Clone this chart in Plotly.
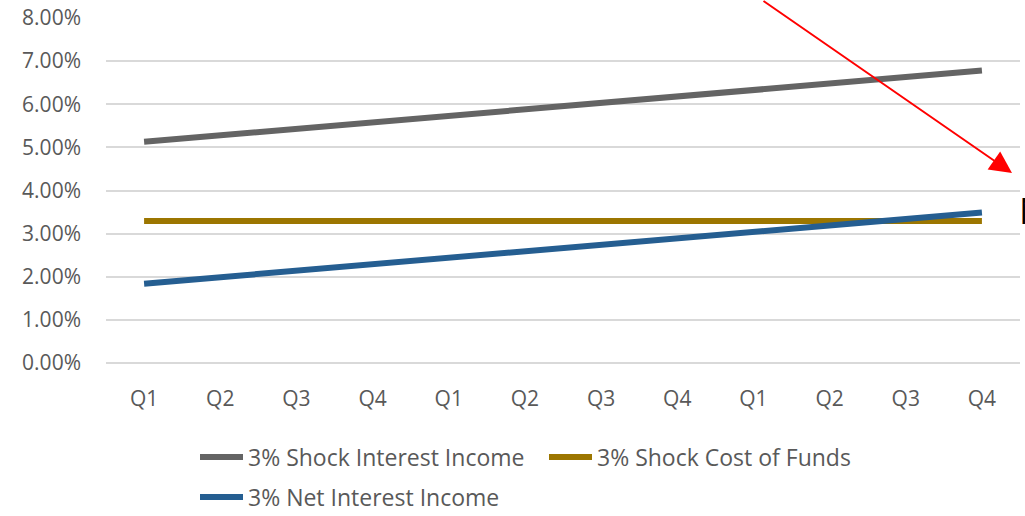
import plotly.graph_objects as go

quarters = ["Q1", "Q2", "Q3", "Q4", "Q1", "Q2", "Q3", "Q4", "Q1", "Q2", "Q3", "Q4"]
shock_interest_income = [5.13, 5.28, 5.43, 5.58, 5.73, 5.88, 6.03, 6.18, 6.33, 6.48, 6.63, 6.78]
shock_cost_of_funds = [3.29, 3.29, 3.29, 3.29, 3.29, 3.29, 3.29, 3.29, 3.29, 3.29, 3.29, 3.29]
net_interest_income = [1.84, 1.99, 2.14, 2.29, 2.44, 2.59, 2.74, 2.89, 3.04, 3.19, 3.34, 3.49]
y_ticks = [0, 1, 2, 3, 4, 5, 6, 7, 8]

FONT = "Open Sans"
TXT = "#595959"
xs = list(range(len(quarters)))

fig = go.Figure()
fig.add_trace(go.Scatter(x=xs, y=shock_interest_income, mode="lines",
                         name="3% Shock Interest Income",
                         line=dict(color="#646464", width=6), legend="legend"))
fig.add_trace(go.Scatter(x=xs, y=shock_cost_of_funds, mode="lines",
                         name="3% Shock Cost of Funds",
                         line=dict(color="#9C7600", width=6), legend="legend2"))
fig.add_trace(go.Scatter(x=xs, y=net_interest_income, mode="lines",
                         name="3% Net Interest Income",
                         line=dict(color="#255E91", width=6), legend="legend3"))

W, H = 1025, 516
ml, mr, mt, mb = 106, 5, 18, 153
pw = W - ml - mr
ph = H - mt - mb

def px_x(p):
    return (p - ml) / pw

def px_y(p):
    return (H - mb - p) / ph

def cy(p):
    return 1 - p / H

def cx(p):
    return p / W

def legend_at(text_x_px, y_px):
    # legend text begins ~53 px to the right of the legend's left edge
    return dict(orientation="h", xref="container", yref="container",
                x=cx(text_x_px - 53), xanchor="left", y=cy(y_px), yanchor="middle",
                itemwidth=43, font=dict(size=23, color=TXT),
                bgcolor="rgba(0,0,0,0)", borderwidth=0)

fig.update_layout(
    width=W, height=H,
    margin=dict(l=ml, r=mr, t=mt, b=mb, autoexpand=False),
    paper_bgcolor="white", plot_bgcolor="white",
    font=dict(family=FONT, size=21, color=TXT),
    xaxis=dict(range=[-0.5, len(quarters) - 0.5], tickmode="array", tickvals=xs,
               ticktext=quarters, showgrid=False, zeroline=False, showline=False,
               ticks="", ticklabelstandoff=21, tickfont=dict(size=21, color=TXT)),
    yaxis=dict(range=[0, 8.0], tickmode="array", tickvals=y_ticks,
               ticktext=[f"{v:.2f}%" for v in y_ticks], showgrid=True,
               gridcolor="#D9D9D9", gridwidth=2, zeroline=True, zerolinecolor="#D9D9D9",
               zerolinewidth=2, showline=False, ticks="", ticklabelstandoff=24,
               tickfont=dict(size=21, color=TXT)),
    legend=legend_at(248, 457),
    legend2=legend_at(597, 457),
    legend3=legend_at(248, 497),
    showlegend=True,
)

# red arrow annotation
fig.add_annotation(xref="paper", yref="paper", x=px_x(1012), y=px_y(173),
                   ax=-250, ay=-178, axref="pixel", ayref="pixel",
                   showarrow=True, arrowhead=2, arrowsize=2.2, arrowwidth=2,
                   arrowcolor="#FF0000", text="")
# partially visible label at right edge (cut off in the original too)
fig.add_annotation(xref="paper", yref="paper", x=px_x(1017), y=px_y(210),
                   xanchor="left", yanchor="middle", showarrow=False,
                   text="N", font=dict(family="Open Sans", size=36, color="black"))

fig.write_html("out.html")
